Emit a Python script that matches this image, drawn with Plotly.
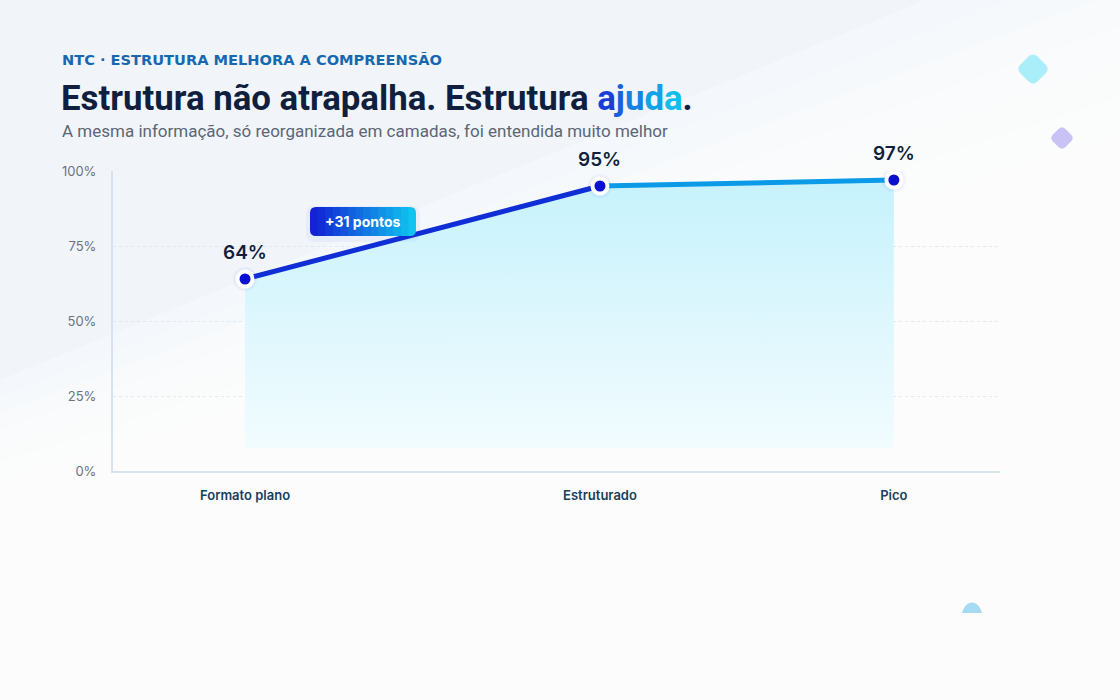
import plotly.graph_objects as go

# ---------------- data ----------------
categories = ["Formato plano", "Estruturado", "Pico"]
x_positions = [0.0, 1.0, 1.828]
values = [64, 95, 97]
y_ticks = [0, 25, 50, 75, 100]
y_tick_labels = ["0%", "25%", "50%", "75%", "100%"]
gain_label = f"+{values[1] - values[0]} pontos"

# ---------------- layout geometry helpers (pixels -> paper) ----------------
L, R, T, B = 113, 1000, 171, 471
W_FIG, H_FIG = 1120, 700


def P(px, py):
    return (px - L) / (R - L), (B - py) / (B - T)


def rounded_rect(x0, y0, x1, y1, r, left=True, right=True):
    def pt(px, py):
        a, b = P(px, py)
        return f"{a:.5f},{b:.5f}"
    s = ""
    if left:
        s += f"M {pt(x0, y0 + r)} Q {pt(x0, y0)} {pt(x0 + r, y0)} "
    else:
        s += f"M {pt(x0, y0)} "
    if right:
        s += f"L {pt(x1 - r, y0)} Q {pt(x1, y0)} {pt(x1, y0 + r)} L {pt(x1, y1 - r)} Q {pt(x1, y1)} {pt(x1 - r, y1)} "
    else:
        s += f"L {pt(x1, y0)} L {pt(x1, y1)} "
    if left:
        s += f"L {pt(x0 + r, y1)} Q {pt(x0, y1)} {pt(x0, y1 - r)} Z"
    else:
        s += f"L {pt(x0, y1)} Z"
    return s


def rounded_diamond(cx, cy, h, k=0.28):
    c = [(cx, cy - h), (cx + h, cy), (cx, cy + h), (cx - h, cy)]
    def lerp(a, b, t):
        return (a[0] + (b[0] - a[0]) * t, a[1] + (b[1] - a[1]) * t)
    def pt(p):
        a, b = P(*p)
        return f"{a:.5f},{b:.5f}"
    s = ""
    for i in range(4):
        prev_c, cur, nxt = c[i - 1], c[i], c[(i + 1) % 4]
        p_in = lerp(cur, prev_c, k)
        p_out = lerp(cur, nxt, k)
        s += ("M " if i == 0 else "L ") + pt(p_in) + " Q " + pt(cur) + " " + pt(p_out) + " "
    return s + "Z"


fig = go.Figure()

# area fill with vertical gradient (fades out just above the baseline)
fig.add_trace(go.Scatter(
    x=x_positions, y=values, mode="lines", line=dict(width=0),
    fill="tozeroy",
    fillgradient=dict(type="vertical", start=0, stop=97,
                      colorscale=[[0, "rgba(255,255,255,0)"],
                                  [0.075, "rgba(255,255,255,0)"],
                                  [0.08, "rgba(240,252,255,0.9)"],
                                  [0.5, "rgba(222,247,253,1)"],
                                  [1, "rgba(198,242,252,1)"]]),
    hoverinfo="skip", showlegend=False,
))

# line, coloured by segment (blue -> cyan)
seg_colors = ["#0f2ed6", "#0b9ae8"]
for i in range(len(values) - 1):
    fig.add_trace(go.Scatter(
        x=x_positions[i:i + 2], y=values[i:i + 2], mode="lines",
        line=dict(color=seg_colors[i], width=5),
        hoverinfo="skip", showlegend=False,
    ))

# glow under markers
fig.add_trace(go.Scatter(
    x=x_positions, y=values, mode="markers",
    marker=dict(size=24, color="rgba(90,80,240,0.06)"),
    hoverinfo="skip", showlegend=False,
))
# markers
fig.add_trace(go.Scatter(
    x=x_positions, y=values, mode="markers",
    marker=dict(size=15, color="#0a0fd0", line=dict(color="white", width=4)),
    showlegend=False, cliponaxis=False,
))

annotations = []
for xv, v in zip(x_positions, values):
    annotations.append(dict(
        x=xv, y=v, xref="x", yref="y", text=f"{v}%", showarrow=False,
        yshift=27, font=dict(family="Inter", size=19, color="#0f1f3d", weight=600),
    ))

# titles
kx, ky = P(60, 60)
annotations.append(dict(
    x=kx, y=ky, xref="paper", yref="paper", xanchor="left", yanchor="middle",
    text="NTC · ESTRUTURA MELHORA A COMPREENSÃO", showarrow=False,
    font=dict(family="DejaVu Sans", size=14.6, color="#1668b0", weight=700),
))
grad = ["#1a3fd8", "#1762dc", "#1582e2", "#13a2e8", "#12bdec"]
ajuda = "".join(f"<span style='color:{c}'>{ch}</span>" for ch, c in zip("ajuda", grad))
tx, ty = P(59, 98)
annotations.append(dict(
    x=tx, y=ty, xref="paper", yref="paper", xanchor="left", yanchor="middle",
    text="Estrutura não atrapalha. Estrutura " + ajuda + ".", showarrow=False,
    font=dict(family="Roboto", size=34.8, color="#0f1f3d", weight=700),
))
sx, sy = P(60, 131)
annotations.append(dict(
    x=sx, y=sy, xref="paper", yref="paper", xanchor="left", yanchor="middle",
    text="A mesma informação, só reorganizada em camadas, foi entendida muito melhor",
    showarrow=False, font=dict(family="Roboto", size=17, color="#5b6676"),
))

# badge text
bx, by = P(363, 221.5)
annotations.append(dict(
    x=bx, y=by, xref="paper", yref="paper", xanchor="center", yanchor="middle",
    text=gain_label, showarrow=False,
    font=dict(family="Inter", size=14, color="white", weight=700),
))

shapes = []
# background: soft diagonal lightening toward bottom-right
n_bg = 18
for k in range(n_bg):
    t = k / (n_bg - 1)
    yl = 380 + t * 280
    yr = -80 + t * 600
    pts = [(0, 700), (0, yl), (1120, yr), (1120, 700)]
    path = "M " + " L ".join("{:.5f},{:.5f}".format(*P(px, py)) for px, py in pts) + " Z"
    shapes.append(dict(type="path", xref="paper", yref="paper", path=path,
                       fillcolor="rgba(255,255,255,0.24)", line=dict(width=0), layer="below"))

# decorative diamonds and bump
shapes.append(dict(type="path", xref="paper", yref="paper", path=rounded_diamond(1033, 69, 17),
                   fillcolor="#a9eef8", line=dict(width=0), layer="below"))
shapes.append(dict(type="path", xref="paper", yref="paper", path=rounded_diamond(1062, 138, 12.5),
                   fillcolor="#c9c3f5", line=dict(width=0), layer="below"))
c1, c2, c3, c4 = P(962, 613), P(966, 599), P(978, 599), P(982, 613)
shapes.append(dict(type="path", xref="paper", yref="paper",
                   path=f"M {c1[0]:.5f},{c1[1]:.5f} C {c2[0]:.5f},{c2[1]:.5f} {c3[0]:.5f},{c3[1]:.5f} {c4[0]:.5f},{c4[1]:.5f} Z",
                   fillcolor="#a6d9f2", line=dict(width=0), layer="below"))

# badge: soft shadow + gradient built from strips
shapes.append(dict(type="path", xref="paper", yref="paper",
                   path=rounded_rect(306, 206, 420, 242, 9),
                   fillcolor="rgba(40,70,220,0.05)", line=dict(width=0), layer="above"))
bx0, bx1, by0, by1 = 310, 416, 207, 236
n = 14
c_start = (0x12, 0x22, 0xd4)
c_end = (0x10, 0xc4, 0xef)
w = (bx1 - bx0) / n
for i in range(n):
    t = i / (n - 1)
    col = "rgb({},{},{})".format(*[int(a + (b - a) * t) for a, b in zip(c_start, c_end)])
    x0 = bx0 + i * w
    x1 = bx0 + (i + 1) * w + (0.8 if i < n - 1 else 0)
    path = rounded_rect(x0, by0, x1, by1, 6, left=(i == 0), right=(i == n - 1))
    shapes.append(dict(type="path", xref="paper", yref="paper", path=path,
                       fillcolor=col, line=dict(width=0), layer="above"))

fig.update_layout(
    width=W_FIG, height=H_FIG,
    margin=dict(l=L, r=W_FIG - R, t=T, b=H_FIG - B),
    paper_bgcolor="#f1f5fa", plot_bgcolor="rgba(0,0,0,0)",
    showlegend=False,
    annotations=annotations, shapes=shapes,
    xaxis=dict(
        range=[-0.372, 2.127], tickvals=x_positions, ticktext=categories,
        showgrid=False, zeroline=False, showline=True, linecolor="#d8e2ef", linewidth=2,
        ticks="outside", ticklen=11, tickcolor="rgba(0,0,0,0)",
        tickfont=dict(family="Inter", size=13, color="#173f5f", weight=600),
        fixedrange=True,
    ),
    yaxis=dict(
        range=[0, 100], tickvals=y_ticks, ticktext=y_tick_labels,
        showgrid=True, gridcolor="#e2e8f0", griddash="3px,3px", gridwidth=1,
        zeroline=False, showline=True, linecolor="#d8e2ef", linewidth=2,
        ticks="outside", ticklen=12, tickcolor="rgba(0,0,0,0)",
        tickfont=dict(family="Inter", size=13, color="#6b7280"),
        fixedrange=True,
    ),
    hovermode=False,
)

fig.write_html("out.html")
